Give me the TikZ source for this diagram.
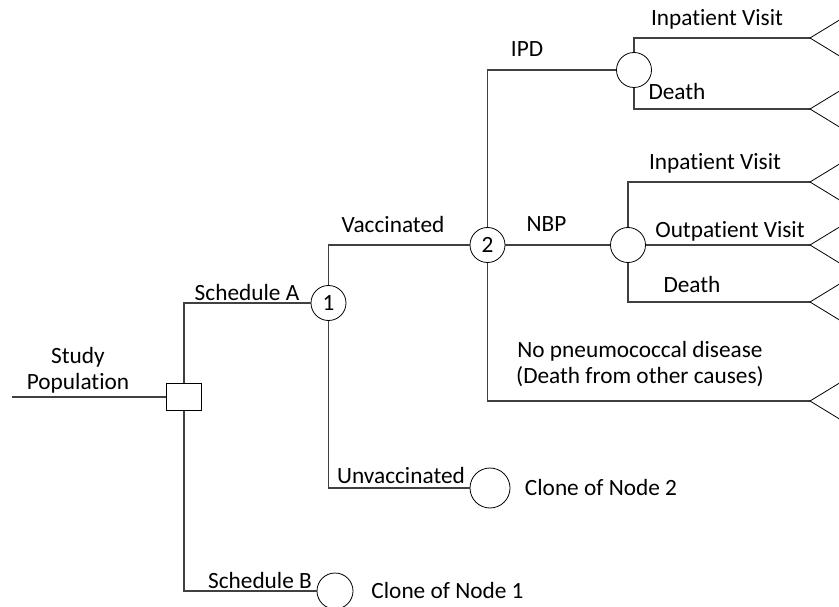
\documentclass[tikz,border=0pt]{standalone}
\usepackage{fontspec}
\setmainfont{Carlito}[Ligatures=NoCommon]
\begin{document}
\begin{tikzpicture}[x=1pt,y=-1pt,
  branch/.style={draw=black!75,line width=1.1pt},
  chance/.style={circle,draw=black,line width=0.8pt,minimum size=35pt,inner sep=0pt,fill=white},
  decision/.style={rectangle,draw=black,line width=0.8pt,minimum width=35pt,minimum height=27pt,inner sep=0pt,fill=white},
  lbl/.style={inner sep=0pt,anchor=base,font=\fontsize{23.3}{28}\selectfont},
  num/.style={font=\fontsize{23.3}{28}\selectfont},
  term/.style={draw=black,line width=0.8pt}]
\useasboundingbox (0,0) rectangle (839,607);
\clip (0,0) rectangle (839,607);
% nodes
\coordinate (start) at (12,397);
\node[decision] (sq) at (184,397) {};
\node[chance,num] (c1) at (328.5,303) {1};
\node[chance,num] (c2) at (487.5,245) {2};
\node[chance] (cipd) at (634,70) {};
\node[chance] (cnbp) at (628,245) {};
\node[chance,minimum size=40pt] (cunv) at (490,488) {};
\node[chance,minimum size=36pt] (cschb) at (335,591) {};
\coordinate (t1) at (810,38);
\coordinate (t2) at (810,109);
\coordinate (t3) at (810,182);
\coordinate (t4) at (810,245);
\coordinate (t5) at (810,302);
\coordinate (t6) at (810,401);
% connectors
\draw[branch] (start) -- (sq.west);
\draw[branch] (sq.north) |- (c1.west);
\draw[branch] (sq.south) |- (cschb.west);
\draw[branch] (c1.north) |- (c2.west);
\draw[branch] (c1.south) |- (cunv.west);
\draw[branch] (c2.north) |- (cipd.west);
\draw[branch] (c2.east) -- (cnbp.west);
\draw[branch] (c2.south) |- (t6);
\draw[branch] (cipd.north) |- (t1);
\draw[branch] (cipd.south) |- (t2);
\draw[branch] (cnbp.north) |- (t3);
\draw[branch] (cnbp.east) -- (t4);
\draw[branch] (cnbp.south) |- (t5);
% terminal triangles
\foreach \t in {t1,t2,t3,t4,t5,t6}{
  \draw[term] ([shift={(40,-24.4)}]\t) -- (\t) -- ([shift={(40,24.4)}]\t);
}
% labels
\node[lbl] (l1) at (78,363) {Study};
\node[lbl] (l2) at (78,389) {Population};
\node[lbl] (l3) at (247,301) {Schedule A};
\node[lbl] (l4) at (393,233) {Vaccinated};
\node[lbl] (l5) at (527,57) {IPD};
\node[lbl] (l6) at (546.5,232) {NBP};
\node[lbl] (l7) at (717,26) {Inpatient Visit};
\node[lbl] (l8) at (677,100) {Death};
\node[lbl] (l9) at (715,170) {Inpatient Visit};
\node[lbl] (l10) at (730,237) {Outpatient Visit};
\node[lbl] (l11) at (692,292) {Death};
\node[lbl] (l12) at (640,357) {No pneumococcal disease};
\node[lbl] (l13) at (640,383) {(Death from other causes)};
\node[lbl] (l14) at (401,483) {Unvaccinated};
\node[lbl] (l15) at (601,495) {Clone of Node 2};
\node[lbl] (l16) at (260,588) {Schedule B};
\node[lbl] (l17) at (447.5,598) {Clone of Node 1};
\end{tikzpicture}
\end{document}
